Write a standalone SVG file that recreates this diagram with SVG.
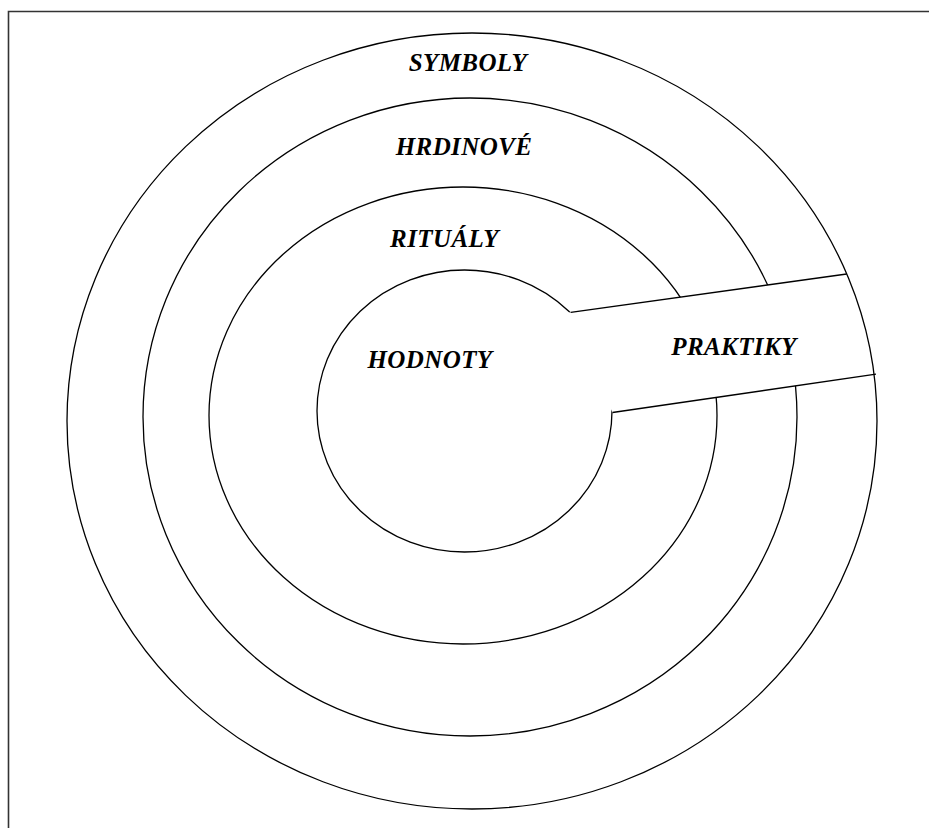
<svg xmlns="http://www.w3.org/2000/svg" width="929" height="828" viewBox="0 0 929 828">
<style>
.ring{fill:none;stroke:#000;stroke-width:1.3}
.edge{fill:none;stroke:#000;stroke-width:1.3}
.lbl{font-family:"Liberation Serif","Times New Roman",serif;font-weight:bold;font-style:italic;font-size:25px;letter-spacing:0.4px;fill:#000;text-anchor:middle}
</style>
<rect x="0" y="0" width="929" height="828" fill="#fff"/>
<path d="M8.5,828 V11.5 H929" fill="none" stroke="#333" stroke-width="1.6"/>
<g id="hrdinove">
<ellipse class="ring" cx="470" cy="417" rx="327" ry="319"/>
<text class="lbl" x="464" y="155">HRDINOVÉ</text>
</g>
<g id="ritualy">
<ellipse class="ring" cx="463" cy="415.5" rx="254" ry="228.5"/>
<text class="lbl" x="444.5" y="247">RITUÁLY</text>
</g>
<g id="hodnoty">
<ellipse class="ring" cx="464.5" cy="411" rx="147.5" ry="141"/>
<text class="lbl" x="430" y="368">HODNOTY</text>
</g>
<g id="praktiky">
<polygon points="565,313 890,268 890,372 612.5,412.5" fill="#fff"/>
<g id="connectors">
<line class="edge" x1="570.7" y1="312.3" x2="846.7" y2="274"/>
<line class="edge" x1="612.5" y1="412.5" x2="876" y2="374.2"/>
</g>
<text class="lbl" x="734" y="355">PRAKTIKY</text>
</g>
<g id="symboly">
<ellipse class="ring" cx="472" cy="421" rx="405" ry="388"/>
<text class="lbl" x="468" y="71">SYMBOLY</text>
</g>
</svg>
